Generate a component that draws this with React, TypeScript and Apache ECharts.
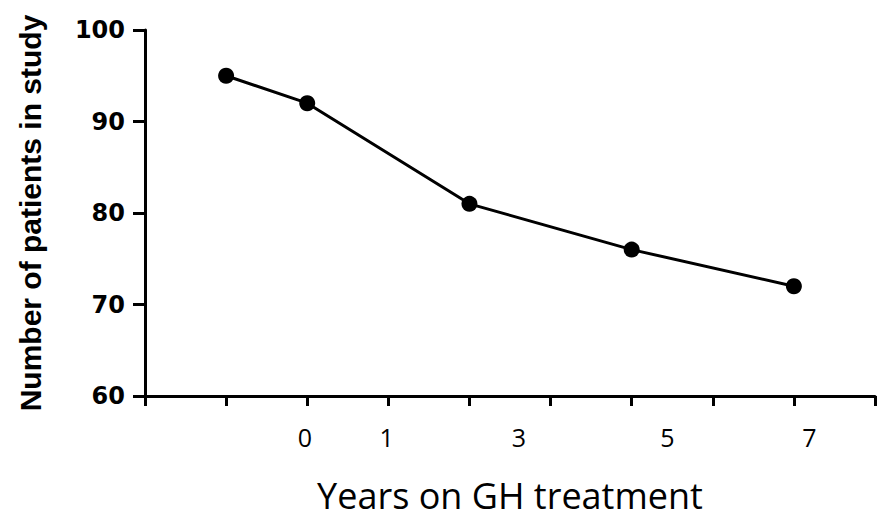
import React, { useEffect, useRef } from "react";
import * as echarts from "echarts";

const xPositions = [1, 2, 4, 6, 8];
const patients = [95, 92, 81, 76, 72];
const xLabelAt = [1.97, 2.98, 4.61, 6.44, 8.19];
const xLabelText = ["0", "1", "3", "5", "7"];
const yTicks = { min: 60, max: 100, interval: 10 };
const xTitle = "Years on GH treatment";
const yTitle = "Number of patients in study";

export default function App() {
  const ref = useRef<HTMLDivElement>(null);
  useEffect(() => {
    const chart = echarts.init(ref.current!, null, { renderer: "svg" });
    chart.setOption({
      animation: false,
      backgroundColor: "#fff",
      grid: {
        left: 145,
        right: 3,
        top: 30,
        bottom: 129,
        containLabel: false,
        outerBoundsMode: "none",
      },
      xAxis: [
        {
          type: "value",
          min: 0,
          max: 9,
          interval: 1,
          axisLine: { show: true, lineStyle: { color: "#000", width: 3 } },
          axisTick: { show: true, length: 10, lineStyle: { color: "#000", width: 3 } },
          axisLabel: { show: false },
          splitLine: { show: false },
          name: xTitle,
          nameLocation: "middle",
          nameGap: 80,
          nameTextStyle: {
            fontFamily: "Open Sans",
            fontSize: 36,
            lineHeight: 38,
            color: "#000",
          },
        },
        {
          type: "value",
          min: 0,
          max: 9,
          position: "bottom",
          axisLine: { show: false },
          axisTick: { show: false },
          splitLine: { show: false },
          axisLabel: {
            customValues: xLabelAt,
            margin: 28,
            fontFamily: "Open Sans",
            fontSize: 25,
            color: "#000",
            formatter: (v: number) => {
              let best = 0;
              xLabelAt.forEach((p, i) => {
                if (Math.abs(p - v) < Math.abs(xLabelAt[best] - v)) best = i;
              });
              return xLabelText[best];
            },
          },
        },
      ],
      yAxis: {
        type: "value",
        min: yTicks.min,
        max: yTicks.max,
        interval: yTicks.interval,
        axisLine: { show: true, lineStyle: { color: "#000", width: 3 } },
        axisTick: { show: true, length: 12, lineStyle: { color: "#000", width: 3 } },
        axisLabel: {
          margin: 20,
          fontFamily: "DejaVu Sans",
          fontWeight: "bold",
          fontSize: 24,
          color: "#000",
        },
        splitLine: { show: false },
        name: yTitle,
        nameLocation: "middle",
        nameRotate: 90,
        nameGap: 100,
        nameTextStyle: {
          fontFamily: "Liberation Sans",
          fontWeight: "bold",
          fontSize: 30,
          color: "#000",
        },
      },
      series: [
        {
          type: "line",
          xAxisIndex: 0,
          data: xPositions.map((x, i) => [x, patients[i]]),
          lineStyle: { color: "#000", width: 3 },
          itemStyle: { color: "#000" },
          symbol: "circle",
          symbolSize: 16,
          showSymbol: true,
        },
      ],
    });
    return () => chart.dispose();
  }, []);
  return (
    <div
      ref={ref}
      style={{ width: 878, height: 525, position: "absolute", left: 0, top: 0 }}
    />
  );
}
